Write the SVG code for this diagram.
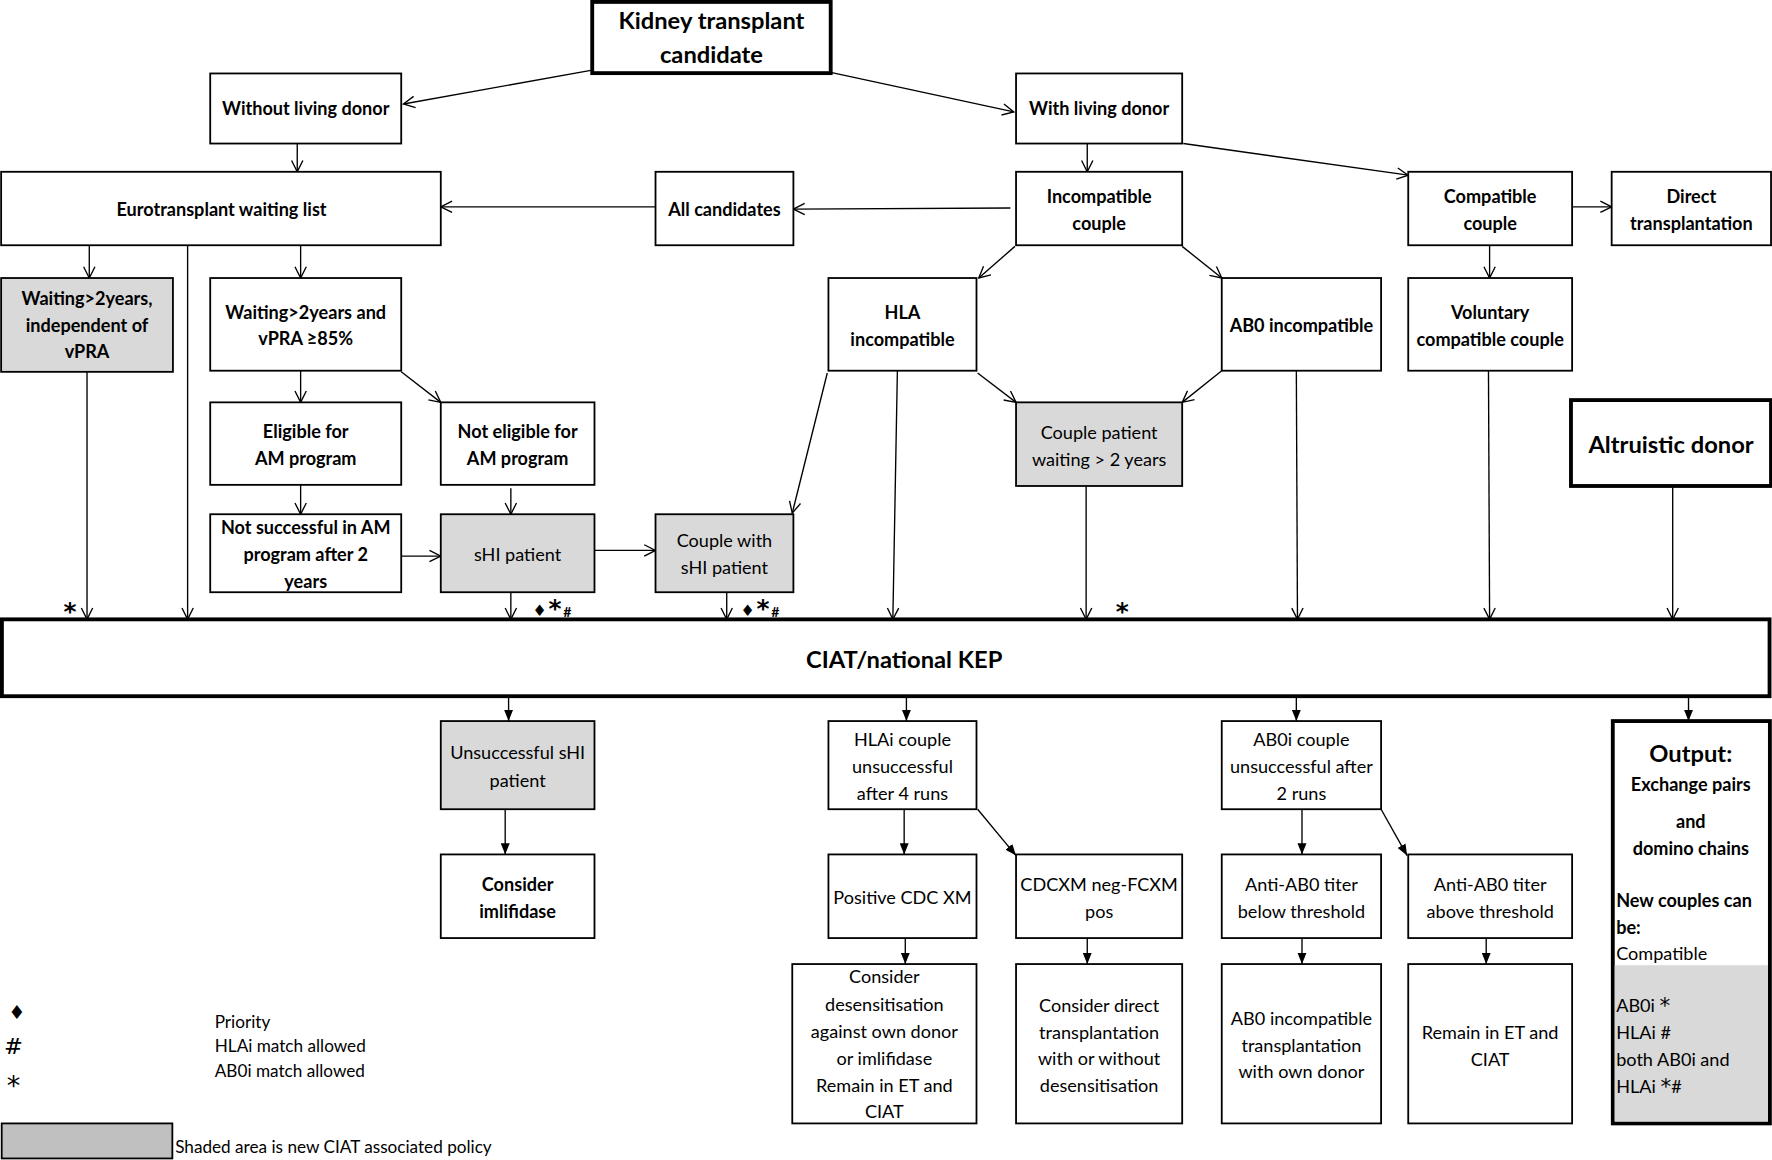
<svg xmlns="http://www.w3.org/2000/svg" width="1772" height="1160" viewBox="0 0 1772 1160">
<style>
.box{fill:#fff;stroke:#000;stroke-width:1.6}
.sh{fill:#d9d9d9;stroke:#000;stroke-width:1.6}
.thk{fill:#fff;stroke:#000;stroke-width:3.4}
text{font-family:Lato,"Liberation Sans",sans-serif;fill:#000}
.t{font-size:16px;text-anchor:middle;dominant-baseline:central}
.b{font-weight:bold}
.big{font-size:21px;font-weight:bold}
.l{font-size:16px;text-anchor:start;dominant-baseline:central}
.lg{font-size:15.2px;dominant-baseline:central}
.sym{font-family:"DejaVu Sans",sans-serif}
.ser{font-family:"DejaVu Serif",serif}
.ast{font-family:"DejaVu Sans",sans-serif;font-weight:bold;font-size:22px;text-anchor:middle}
.c{stroke:#000;stroke-width:1.2;fill:none;marker-end:url(#open)}
.f{stroke:#000;stroke-width:1.2;fill:none;marker-end:url(#fill)}
</style>
<defs>
<marker id="open" viewBox="0 0 12 12" refX="11" refY="6" markerWidth="12" markerHeight="12" markerUnits="userSpaceOnUse" orient="auto">
<path d="M1,1 L11,6 L1,11" fill="none" stroke="#000" stroke-width="1.2"/>
</marker>
<marker id="fill" viewBox="0 0 10 8" refX="10" refY="4" markerWidth="10" markerHeight="8" markerUnits="userSpaceOnUse" orient="auto">
<path d="M0,0 L10,4 L0,8 z" fill="#000"/>
</marker>
</defs>
<rect width="1772" height="1160" fill="#fff"/>
<g transform="scale(1.1302)">
<g id="connectors">
<path class="c" d="M524,62 L357,92"/>
<path class="c" d="M735,64 L897,99"/>
<path class="c" d="M263,127 L263,152"/>
<path class="c" d="M962,127 L962,152"/>
<path class="c" d="M1047,127 L1246,155"/>
<path class="c" d="M894,184 L702,185"/>
<path class="c" d="M580,183 L390,183"/>
<path class="c" d="M1391,183 L1426,183"/>
<path class="c" d="M1318,217 L1318,246"/>
<path class="c" d="M898,218 L866,246"/>
<path class="c" d="M1046,218 L1081,246"/>
<path class="c" d="M79,217 L79,246"/>
<path class="c" d="M166,217 L166,548"/>
<path class="c" d="M266,217 L266,246"/>
<path class="c" d="M266,328 L266,356"/>
<path class="c" d="M355,329 L390,356"/>
<path class="c" d="M266,429 L266,455"/>
<path class="c" d="M452,432 L452,455"/>
<path class="c" d="M355,492 L390,492"/>
<path class="c" d="M526,487 L580,487"/>
<path class="c" d="M732,330 L701,454"/>
<path class="c" d="M77,329 L77,548"/>
<path class="c" d="M452,524 L452,548"/>
<path class="c" d="M643,524 L643,548"/>
<path class="c" d="M794,328 L790,548"/>
<path class="c" d="M865,330 L899,356"/>
<path class="c" d="M1081,328 L1046,356"/>
<path class="c" d="M1147,328 L1148,548"/>
<path class="c" d="M1317,328 L1318,548"/>
<path class="c" d="M961,430 L961,548"/>
<path class="c" d="M1480,430 L1480,548"/>
<path class="f" d="M450,616 L450,638"/>
<path class="f" d="M447,716 L447,756"/>
<path class="f" d="M802,616 L802,638"/>
<path class="f" d="M800,716 L800,756"/>
<path class="f" d="M865,716 L899,757"/>
<path class="f" d="M801,830 L801,853"/>
<path class="f" d="M962,830 L962,853"/>
<path class="f" d="M1147,616 L1147,638"/>
<path class="f" d="M1152,716 L1152,756"/>
<path class="f" d="M1222,716 L1245,757"/>
<path class="f" d="M1152,826 L1152,853"/>
<path class="f" d="M1315,826 L1315,853"/>
<path class="f" d="M1494,616 L1494,638"/>
</g>
<g id="n-kidney"><rect class="thk" x="524" y="1.7" width="211" height="63"/><text class="t big" x="629.5" y="18">Kidney transplant</text><text class="t big" x="629.5" y="48">candidate</text></g>
<g id="n-without"><rect class="box" x="186" y="65" width="169" height="62"/><text class="t b" x="270.5" y="96">Without living donor</text></g>
<g id="n-with"><rect class="box" x="899" y="65" width="147" height="62"/><text class="t b" x="972.5" y="96">With living donor</text></g>
<g id="n-et"><rect class="box" x="1" y="152" width="389" height="65"/><text class="t b" x="196" y="185">Eurotransplant waiting list</text></g>
<g id="n-all"><rect class="box" x="580" y="152" width="122" height="65"/><text class="t b" x="641" y="185">All candidates</text></g>
<g id="n-incompat"><rect class="box" x="899" y="152" width="147" height="65"/><text class="t b" x="972.5" y="173">Incompatible</text><text class="t b" x="972.5" y="197">couple</text></g>
<g id="n-compat"><rect class="box" x="1246" y="152" width="145" height="65"/><text class="t b" x="1318.5" y="173">Compatible</text><text class="t b" x="1318.5" y="197">couple</text></g>
<g id="n-direct"><rect class="box" x="1426" y="152" width="141" height="65"/><text class="t b" x="1496.5" y="173">Direct</text><text class="t b" x="1496.5" y="197">transplantation</text></g>
<g id="n-wait2"><rect class="sh" x="1" y="246" width="152" height="83"/><text class="t b" x="77" y="264">Waiting&gt;2years,</text><text class="t b" x="77" y="288">independent of</text><text class="t b" x="77" y="311">vPRA</text></g>
<g id="n-wait2vpra"><rect class="box" x="186" y="246" width="169" height="82"/><text class="t b" x="270.5" y="276">Waiting&gt;2years and</text><text class="t b" x="270.5" y="299">vPRA ≥85%</text></g>
<g id="n-hla"><rect class="box" x="733" y="246" width="131" height="82"/><text class="t b" x="798.5" y="276">HLA</text><text class="t b" x="798.5" y="300">incompatible</text></g>
<g id="n-abo"><rect class="box" x="1081" y="246" width="141" height="82"/><text class="t b" x="1151.5" y="288">AB0 incompatible</text></g>
<g id="n-vol"><rect class="box" x="1246" y="246" width="145" height="82"/><text class="t b" x="1318.5" y="276">Voluntary</text><text class="t b" x="1318.5" y="300">compatible couple</text></g>
<g id="n-elig"><rect class="box" x="186" y="356" width="169" height="73"/><text class="t b" x="270.5" y="381">Eligible for</text><text class="t b" x="270.5" y="405">AM program</text></g>
<g id="n-notelig"><rect class="box" x="390" y="356" width="136" height="73"/><text class="t b" x="458" y="381">Not eligible for</text><text class="t b" x="458" y="405">AM program</text></g>
<g id="n-cpw"><rect class="sh" x="899" y="356" width="147" height="74"/><text class="t" x="972.5" y="382">Couple patient</text><text class="t" x="972.5" y="406">waiting &gt; 2 years</text></g>
<g id="n-altru"><rect class="thk" x="1390" y="354" width="177" height="76"/><text class="t big" x="1478.5" y="393">Altruistic donor</text></g>
<g id="n-notsucc"><rect class="box" x="186" y="455" width="169" height="69"/><text class="t b" x="270.5" y="466">Not successful in AM</text><text class="t b" x="270.5" y="490">program after 2</text><text class="t b" x="270.5" y="514">years</text></g>
<g id="n-shi"><rect class="sh" x="390" y="455" width="136" height="69"/><text class="t" x="458" y="490">sHI patient</text></g>
<g id="n-cwshi"><rect class="sh" x="580" y="455" width="122" height="69"/><text class="t" x="641" y="478">Couple with</text><text class="t" x="641" y="502">sHI patient</text></g>
<g id="marks">
<text class="ast" x="62" y="549">*</text>
<text class="sym" x="477.5" y="545" font-size="14" text-anchor="middle">♦</text>
<text class="ast" x="491" y="546">*</text>
<text x="502" y="546" font-size="12.5" font-weight="bold" text-anchor="middle">#</text>
<text class="sym" x="661.5" y="545" font-size="14" text-anchor="middle">♦</text>
<text class="ast" x="675" y="546">*</text>
<text x="686" y="546" font-size="12.5" font-weight="bold" text-anchor="middle">#</text>
<text class="ast" x="993" y="549">*</text>
</g>
<g id="n-ciat"><rect class="thk" x="1.7" y="548" width="1564" height="68"/><text class="t big" x="800" y="583">CIAT/national KEP</text></g>
<g id="n-unsucc"><rect class="sh" x="390" y="638" width="136" height="78"/><text class="t" x="458" y="665">Unsuccessful sHI</text><text class="t" x="458" y="690">patient</text></g>
<g id="n-imli"><rect class="box" x="390" y="756" width="136" height="74"/><text class="t b" x="458" y="782">Consider</text><text class="t b" x="458" y="806">imlifidase</text></g>
<g id="n-hlai"><rect class="box" x="733" y="638" width="131" height="78"/><text class="t" x="798.5" y="654">HLAi couple</text><text class="t" x="798.5" y="678">unsuccessful</text><text class="t" x="798.5" y="702">after 4 runs</text></g>
<g id="n-poscdc"><rect class="box" x="733" y="756" width="131" height="74"/><text class="t" x="798.5" y="794">Positive CDC XM</text></g>
<g id="n-cdcxm"><rect class="box" x="899" y="756" width="147" height="74"/><text class="t" x="972.5" y="782">CDCXM neg-FCXM</text><text class="t" x="972.5" y="806">pos</text></g>
<g id="n-consdes"><rect class="box" x="701" y="853" width="163" height="141"/><text class="t" x="782.5" y="864">Consider</text><text class="t" x="782.5" y="888">desensitisation</text><text class="t" x="782.5" y="912">against own donor</text><text class="t" x="782.5" y="936">or imlifidase</text><text class="t" x="782.5" y="960">Remain in ET and</text><text class="t" x="782.5" y="983">CIAT</text></g>
<g id="n-consdir"><rect class="box" x="899" y="853" width="147" height="141"/><text class="t" x="972.5" y="889">Consider direct</text><text class="t" x="972.5" y="913">transplantation</text><text class="t" x="972.5" y="936">with or without</text><text class="t" x="972.5" y="960">desensitisation</text></g>
<g id="n-aboi"><rect class="box" x="1081" y="638" width="141" height="78"/><text class="t" x="1151.5" y="654">AB0i couple</text><text class="t" x="1151.5" y="678">unsuccessful after</text><text class="t" x="1151.5" y="702">2 runs</text></g>
<g id="n-below"><rect class="box" x="1081" y="756" width="141" height="74"/><text class="t" x="1151.5" y="782">Anti-AB0 titer</text><text class="t" x="1151.5" y="806">below threshold</text></g>
<g id="n-above"><rect class="box" x="1246" y="756" width="145" height="74"/><text class="t" x="1318.5" y="782">Anti-AB0 titer</text><text class="t" x="1318.5" y="806">above threshold</text></g>
<g id="n-abotx"><rect class="box" x="1081" y="853" width="141" height="141"/><text class="t" x="1151.5" y="901">AB0 incompatible</text><text class="t" x="1151.5" y="925">transplantation</text><text class="t" x="1151.5" y="948">with own donor</text></g>
<g id="n-remain"><rect class="box" x="1246" y="853" width="145" height="141"/><text class="t" x="1318.5" y="913">Remain in ET and</text><text class="t" x="1318.5" y="937">CIAT</text></g>
<g id="n-output">
<rect class="thk" x="1427" y="638" width="139" height="356"/>
<rect x="1428.7" y="854" width="135.6" height="138.3" fill="#d9d9d9"/>
<text class="t big" x="1496" y="666">Output:</text>
<text class="t b" x="1496" y="694" font-size="16.5">Exchange pairs</text>
<text class="t b" x="1496" y="726" font-size="16.5">and</text>
<text class="t b" x="1496" y="750" font-size="16.5">domino chains</text>
<text class="l b" x="1430" y="796">New couples can</text>
<text class="l b" x="1430" y="820">be:</text>
<text class="l" x="1430" y="843">Compatible</text>
<text class="l" x="1430" y="889">AB0i <tspan class="sym" font-size="19">*</tspan></text>
<text class="l" x="1430" y="913">HLAi #</text>
<text class="l" x="1430" y="937">both AB0i and</text>
<text class="l" x="1430" y="961">HLAi <tspan class="sym" font-size="19">*</tspan>#</text>
</g>
<g id="legend">
<text class="sym" x="15" y="902" font-size="17" text-anchor="middle">♦</text>
<text class="ser" x="12" y="933" font-size="20" text-anchor="middle">#</text>
<text class="sym" x="12" y="969" font-size="24" text-anchor="middle">*</text>
<text class="lg" x="190" y="904">Priority</text>
<text class="lg" x="190" y="925">HLAi match allowed</text>
<text class="lg" x="190" y="947">AB0i match allowed</text>
<rect x="1.5" y="994" width="151" height="31" fill="#c0c0c0" stroke="#000" stroke-width="1.6"/>
<text class="lg" x="155" y="1014">Shaded area is new CIAT associated policy</text>
</g>
</g>
</svg>
